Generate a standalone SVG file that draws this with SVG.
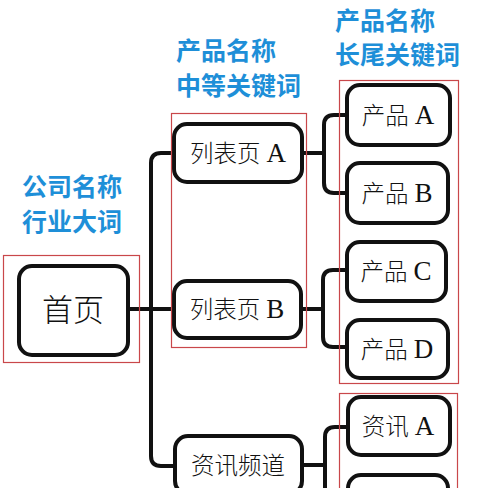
<svg xmlns="http://www.w3.org/2000/svg" width="500" height="488" viewBox="0 0 500 488">
<style>
.node{fill:#fff;stroke:#111;stroke-width:4}
.nt{font-family:"Liberation Serif","Noto Sans CJK SC",serif;font-size:23.5px;font-weight:300;fill:#111;text-anchor:middle}
.lt{font-size:27px;font-weight:normal}
.lbl{font-family:"Noto Sans CJK SC",sans-serif;font-size:25px;font-weight:bold;fill:#1e8fd8}
.red{fill:none;stroke:#c9474a;stroke-width:1.2}
.con{fill:none;stroke:#111;stroke-width:4;stroke-linejoin:round}
</style>
<rect width="500" height="488" fill="#fff"/>
<g id="labels">
<text class="lbl" x="176" y="60">产品名称</text>
<text class="lbl" x="176" y="95">中等关键词</text>
<text class="lbl" x="335" y="30">产品名称</text>
<text class="lbl" x="335" y="64">长尾关键词</text>
<text class="lbl" x="22" y="196">公司名称</text>
<text class="lbl" x="22" y="231">行业大词</text>
</g>
<g id="connectors">
<path class="con" d="M128 309 H174"/>
<path class="con" d="M174 153 H161 Q151 153 151 163 V456 Q151 466 161 466 H175"/>
<path class="con" d="M151 309 H174"/>
<path class="con" d="M302 153 H324"/>
<path class="con" d="M347 115 H334 Q324 115 324 125 V183 Q324 193 334 193 H347"/>
<path class="con" d="M300 309 H323"/>
<path class="con" d="M347 270 H333 Q323 270 323 280 V337 Q323 347 333 347 H347"/>
<path class="con" d="M302 465 H325"/>
<path class="con" d="M348 427 H335 Q325 427 325 437 V500"/>
</g>
<g id="home">
<rect class="node" x="19" y="266" width="109" height="89" rx="13"/>
<text class="nt" x="73" y="321" style="font-size:31px">首页</text>
</g>
<g id="listA">
<rect class="node" x="174" y="124" width="128" height="58" rx="13"/>
<text class="nt" x="238" y="162">列表页 <tspan class="lt">A</tspan></text>
</g>
<g id="listB">
<rect class="node" x="174" y="281" width="127" height="57" rx="13"/>
<text class="nt" x="237" y="318">列表页 <tspan class="lt">B</tspan></text>
</g>
<g id="news">
<rect class="node" x="175" y="436" width="127" height="58" rx="13"/>
<text class="nt" x="238" y="474">资讯频道</text>
</g>
<g id="prodA">
<rect class="node" x="347" y="85" width="103" height="60" rx="13"/>
<text class="nt" x="398" y="124">产品 <tspan class="lt">A</tspan></text>
</g>
<g id="prodB">
<rect class="node" x="347" y="163" width="101" height="60" rx="13"/>
<text class="nt" x="397" y="202">产品 <tspan class="lt">B</tspan></text>
</g>
<g id="prodC">
<rect class="node" x="347" y="242" width="99" height="59" rx="13"/>
<text class="nt" x="396" y="280">产品 <tspan class="lt">C</tspan></text>
</g>
<g id="prodD">
<rect class="node" x="347" y="320" width="101" height="58" rx="13"/>
<text class="nt" x="397" y="358">产品 <tspan class="lt">D</tspan></text>
</g>
<g id="newsA">
<rect class="node" x="348" y="397" width="102" height="58" rx="13"/>
<text class="nt" x="398" y="435">资讯 <tspan class="lt">A</tspan></text>
</g>
<g id="newsB">
<rect class="node" x="348" y="475" width="100" height="58" rx="13"/>
</g>
<g id="groups">
<rect class="red" x="3.5" y="255.5" width="136" height="107"/>
<rect class="red" x="171.5" y="113.5" width="135" height="234"/>
<rect class="red" x="339.5" y="80.5" width="119" height="303"/>
<rect class="red" x="339.5" y="393.5" width="118" height="110"/>
</g>
</svg>
